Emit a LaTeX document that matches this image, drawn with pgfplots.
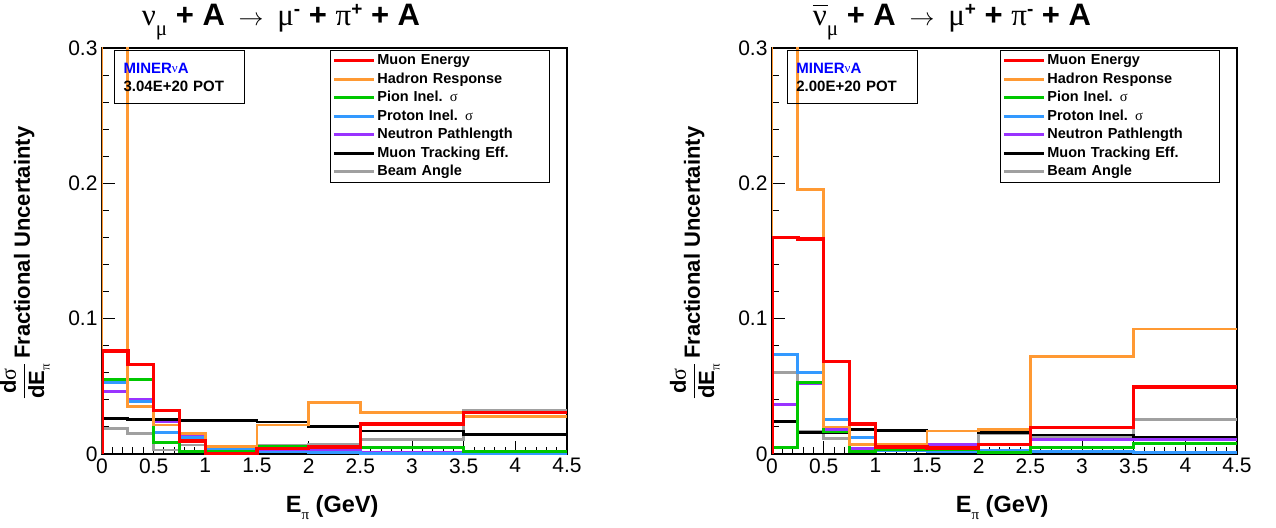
\documentclass[border=0pt]{standalone}
\usepackage{fontspec}
\setmainfont{Liberation Sans}
\newfontfamily\gr{Liberation Serif}
\usepackage{pgfplots}
\usepackage{pgfplotstable}
\pgfplotsset{compat=1.18}
\definecolor{cOrange}{RGB}{255,153,51}
\definecolor{cGreen}{RGB}{0,200,0}
\definecolor{cBlue}{RGB}{51,153,255}
\definecolor{cPurple}{RGB}{153,51,255}
\definecolor{cGray}{RGB}{160,160,160}

% bin left edges; first row closes the histogram at the baseline, last row repeats the last bin at 4.5
\pgfplotstableread{
x    mu      had     pion    prot    neut    trk     beam
0    0       0       0       0       0       0       0
0    0.076   0.45    0.055   0.053   0.046   0.0262  0.019
0.25 0.066   0.035   0.055   0.0385  0.040   0.0255  0.0153
0.5  0.032   0.0215  0.0087  0.016   0.0237  0.0255  0.003
0.75 0.0097  0.015   0.0017  0.012   0.0128  0.025   0.0067
1    0.0003  0.0054  0.002   0.004   0.003   0.0248  0.005
1.5  0.004   0.0215  0.0057  0.0015  0.002   0.0237  0.006
2    0.005   0.0378  0.0057  0.001   0.003   0.0205  0.007
2.5  0.022   0.0306  0.005   0.0005  0.001   0.017   0.011
3.5  0.0306  0.0277  0.002   0.0002  0.001   0.0146  0.0324
4.5  0.0306  0.0277  0.002   0.0002  0.001   0.0146  0.0324
}\leftdata

\pgfplotstableread{
x    mu      had     pion    prot    neut    trk     beam
0    0       0       0       0       0       0       0
0    0.160   0.45    0.0047  0.0736  0.0367  0.024   0.060
0.25 0.159   0.1953  0.0528  0.060   0.052   0.0158  0.017
0.5  0.0684  0.020   0.0163  0.0257  0.018   0.016   0.0114
0.75 0.022   0.0072  0.002   0.012   0.004   0.018   0.004
1    0.005   0.007   0.003   0.0025  0.003   0.0175  0.004
1.5  0.0045  0.017   0.003   0.002   0.007   0.017   0.004
2    0.0069  0.0183  0.0012  0.003   0.007   0.0158  0.015
2.5  0.0195  0.0719  0.0047  0.002   0.011   0.014   0.0128
3.5  0.0496  0.0924  0.008   0.001   0.011   0.012   0.0257
4.5  0.0496  0.0924  0.008   0.001   0.011   0.012   0.0257
}\rightdata

\newcommand{\ttl}{\fontsize{31}{33}\selectfont\bfseries}
\newcommand{\tsub}[1]{\raisebox{-0.32em}{\fontsize{21}{21}\selectfont\mdseries\gr #1}}
\newcommand{\tsup}[1]{\raisebox{0.34em}{\fontsize{19}{19}\selectfont\bfseries #1}}
\newcommand{\nubar}{\leavevmode\rlap{\raisebox{0.62em}{\rule{0.5em}{0.06em}}}{\mdseries\gr ν}}
\newcommand{\ylab}{\bfseries\fontsize{22}{22}\selectfont
  $\displaystyle\frac{\hbox{d{\mdseries\gr σ}}}{\hbox{dE\raisebox{-0.25em}{\fontsize{13}{13}\selectfont\mdseries\gr π}}}$\,Fractional Uncertainty}
\newcommand{\xlab}{\bfseries\fontsize{23.5}{24}\selectfont E\raisebox{-0.3em}{\fontsize{15}{15}\selectfont\mdseries\gr π} (GeV)}

\tikzset{
  potbox/.style={draw=black, line width=1pt, anchor=north west, align=left,
     minimum width=130pt, minimum height=53pt, text width=112pt, inner xsep=9pt,
     font=\bfseries\fontsize{15}{18}\selectfont},
  ttlnode/.style={anchor=center, inner sep=0pt}
}

\pgfplotsset{
  hist/.style={
    scale only axis, width=465pt, height=406pt,
    anchor=south west,
    clip mode=individual,
    xmin=0, xmax=4.5, ymin=0, ymax=0.3,
    xtick={0,0.5,1,1.5,2,2.5,3,3.5,4,4.5},
    xticklabels={0,0.5,1,1.5,2,2.5,3,3.5,4,4.5},
    ytick={0,0.1,0.2,0.3},
    yticklabels={0,0.1,0.2,0.3},
    minor x tick num=4, minor y tick num=4,
    xtick pos=bottom, ytick pos=left,
    tick align=inside,
    major tick length=13pt, minor tick length=7pt,
    every tick/.style={black, line width=1pt},
    axis line style={line width=1.6pt},
    /pgf/number format/assume math mode=true,
    ticklabel style={font=\fontsize{21}{21}\selectfont},
    xticklabel style={yshift=-1pt},
    yticklabel style={xshift=-1pt},
    xlabel style={at={(axis description cs:0.495,-0.133)}, anchor=center},
    ylabel style={at={(axis description cs:-0.166,0.47)}, anchor=center},
    legend style={at={(0.49,0.995)}, anchor=north west, draw=black, line width=1pt,
      font=\bfseries\fontsize{14.5}{16}\selectfont,
      inner xsep=2pt, inner ysep=1pt, row sep=0pt,
      nodes={text width=168pt, text height=11pt, text depth=3.5pt, inner sep=2pt}},
    legend cell align=left,
    legend image code/.code={\draw[#1] (0pt,0pt) -- (40pt,0pt);},
    every axis plot/.append style={const plot mark left, line width=2.8pt, mark=none},
  },
}

\newcommand{\legendimages}{%
  \addlegendimage{red, line width=3pt}
  \addlegendimage{cOrange, line width=3pt}
  \addlegendimage{cGreen, line width=3pt}
  \addlegendimage{cBlue, line width=3pt}
  \addlegendimage{cPurple, line width=3pt}
  \addlegendimage{black, line width=3pt}
  \addlegendimage{cGray, line width=3pt}
  \legend{Muon Energy, Hadron Response, Pion Inel. {\mdseries\gr σ}, Proton Inel. {\mdseries\gr σ}, Neutron Pathlength, Muon Tracking Eff., Beam Angle}
}

\begin{document}
\begin{tikzpicture}
\path[use as bounding box] (0pt,0pt) rectangle (1276pt,527pt);

\begin{axis}[hist, at={(102pt,73pt)},
  xlabel={\xlab}, ylabel={\ylab}]
  \legendimages
  \addplot[cGray, forget plot] table[x=x, y=beam] {\leftdata};
  \addplot[black, forget plot] table[x=x, y=trk] {\leftdata};
  \addplot[cPurple, forget plot] table[x=x, y=neut] {\leftdata};
  \addplot[cBlue, forget plot] table[x=x, y=prot] {\leftdata};
  \addplot[cGreen, forget plot] table[x=x, y=pion] {\leftdata};
  \addplot[cOrange, forget plot] table[x=x, y=had] {\leftdata};
  \addplot[red, line width=3.6pt, forget plot] table[x=x, y=mu] {\leftdata};
  \node[potbox] at (axis description cs:0.026,0.995)
    {{\color{blue}MINER\raisebox{0.05em}{\fontsize{13}{13}\selectfont\mdseries\gr ν}A}\\3.04E+20 POT};
  \node[ttlnode] at (axis description cs:0.385,1.064)
    {\ttl{\mdseries\gr ν}\tsub{μ} + A \,$\rightarrow$\, {\mdseries\gr μ}\tsup{-} + {\mdseries\gr π}\tsup{+} + A};
\end{axis}

\begin{axis}[hist, at={(772pt,73pt)},
  xlabel={\xlab}, ylabel={\ylab}]
  \legendimages
  \addplot[cGray, forget plot] table[x=x, y=beam] {\rightdata};
  \addplot[black, forget plot] table[x=x, y=trk] {\rightdata};
  \addplot[cPurple, forget plot] table[x=x, y=neut] {\rightdata};
  \addplot[cBlue, forget plot] table[x=x, y=prot] {\rightdata};
  \addplot[cGreen, forget plot] table[x=x, y=pion] {\rightdata};
  \addplot[cOrange, forget plot] table[x=x, y=had] {\rightdata};
  \addplot[red, line width=3.6pt, forget plot] table[x=x, y=mu] {\rightdata};
  \node[potbox] at (axis description cs:0.032,0.995)
    {{\color{blue}MINER\raisebox{0.05em}{\fontsize{13}{13}\selectfont\mdseries\gr ν}A}\\2.00E+20 POT};
  \node[ttlnode] at (axis description cs:0.387,1.064)
    {\ttl\nubar\tsub{μ} + A \,$\rightarrow$\, {\mdseries\gr μ}\tsup{+} + {\mdseries\gr π}\tsup{-} + A};
\end{axis}
\end{tikzpicture}
\end{document}
